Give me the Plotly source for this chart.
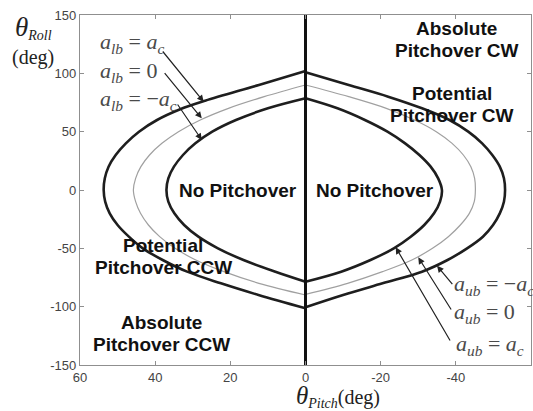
import plotly.graph_objects as go

# ---- boundary curves (pitch, roll in degrees) ----
# each boundary is split at pitch = 0, where it has a corner
outer_pos_roll = [102, 90, 76.5, 69, 60, 50, 40, 30, 20, 10, 0, -10, -20, -30, -40, -50, -60, -70, -80, -90, -101.4]
outer_pos_pitch = [0, 12.4, 26.7, 33.5, 39.5, 44.3, 47.8, 50.5, 52.4, 53.4, 53.7, 53.3, 52.1, 50.0, 47.0, 43.3, 38.0, 31.5, 22.5, 12.5, 0]
outer_neg_roll = [101, 90, 80, 70, 60, 50, 40, 30, 20, 10, 0, -10, -20, -30, -40, -50, -60, -70, -80, -90, -100.5]
outer_neg_pitch = [0, -11.5, -22, -31, -38.3, -43.3, -47, -49.7, -51.7, -52.8, -53.1, -52.8, -51.7, -49.9, -47.2, -43, -37.8, -31, -20.5, -10, 0]

mid_pos_roll = [90, 80, 70, 60, 50, 40, 30, 20, 10, 0, -10, -20, -30, -40, -50, -60, -70, -80, -90]
mid_pos_pitch = [0, 11, 20.5, 28, 33.8, 38.2, 41.5, 43.8, 45.2, 45.8, 45.2, 43.9, 41.8, 38.8, 34.7, 29.2, 21.7, 12.4, 0]
mid_neg_roll = [90, 80, 70, 60, 50, 40, 30, 20, 10, 0, -10, -20, -30, -40, -50, -60, -70, -80, -89.5]
mid_neg_pitch = [0, -11.5, -21.5, -29, -34.8, -39, -42, -44, -45, -45.2, -44.9, -43.6, -41.2, -38, -33.8, -28.3, -20.5, -11.2, 0]

inner_pos_roll = [78.6, 70, 60, 50, 40, 30, 20, 10, 0, -10, -20, -30, -40, -50, -60, -70, -78.6]
inner_pos_pitch = [0, 10, 18.5, 24.8, 29.3, 32.6, 35, 36.5, 37, 36.5, 34.9, 32.3, 28.5, 23.3, 16.5, 8, 0]
inner_neg_roll = [78.6, 70, 60, 50, 40, 30, 20, 10, 0, -10, -20, -30, -40, -50, -60, -70, -78.6]
inner_neg_pitch = [0, -8.5, -15.8, -21.8, -26.5, -30.3, -33.3, -35.3, -36.3, -35.8, -34.2, -31.6, -28, -23.5, -17.3, -9.5, 0]

# zero-pitch divider
divider_pitch = [0, 0]
divider_roll = [-150, 150]

# axis ticks
x_ticks = [60, 40, 20, 0, -20, -40, -60]
x_tick_text = ["60", "40", "20", "0", "-20", "-40", "-60"]
y_ticks = [150, 100, 50, 0, -50, -100, -150]
y_tick_text = ["150", "100", "50", "0", "-50", "-100", "-150"]

# region labels: (lines, pitch, roll of block centre)
region_labels = [
    (["Absolute", "Pitchover CW"], -40.3, 129.4),
    (["Potential", "Pitchover CW"], -38.9, 72.9),
    (["No Pitchover"], 18.0, 0),
    (["No Pitchover"], -18.5, 0),
    (["Potential", "Pitchover CCW"], 37.8, -56.6),
    (["Absolute", "Pitchover CCW"], 38.3, -122.6),
]

# bound labels with arrows: (text, label pitch, label roll, tail pitch, tail roll, tip pitch, tip roll)
bound_labels = [
    ("<i>a</i><sub><i>lb</i></sub> = <i>a</i><sub><i>c</i></sub>", 55.1, 126.0, 38.3, 120.0, 27.1, 75.7),
    ("<i>a</i><sub><i>lb</i></sub> = 0", 55.1, 101.1, 37.8, 101.4, 27.6, 61.4),
    ("<i>a</i><sub><i>lb</i></sub> = −<i>a</i><sub><i>c</i></sub>", 55.1, 77.1, 34.3, 74.6, 27.6, 42.9),
    ("<i>a</i><sub><i>ub</i></sub> = −<i>a</i><sub><i>c</i></sub>", -39.0, -81.4, -39.4, -82.0, -35.0, -64.9),
    ("<i>a</i><sub><i>ub</i></sub> = 0", -39.0, -105.4, -39.0, -103.7, -30.0, -57.7),
    ("<i>a</i><sub><i>ub</i></sub> = <i>a</i><sub><i>c</i></sub>", -39.5, -132.9, -38.7, -130.3, -24.0, -49.1),
]

fig = go.Figure()

thick = dict(color="#1e1e1e", width=2.6, shape="spline", smoothing=1.0)
thin = dict(color="#a0a0a0", width=1.2, shape="spline", smoothing=1.0)

for px, ry, style in [
    (outer_pos_pitch, outer_pos_roll, thick),
    (outer_neg_pitch, outer_neg_roll, thick),
    (mid_pos_pitch, mid_pos_roll, thin),
    (mid_neg_pitch, mid_neg_roll, thin),
    (inner_pos_pitch, inner_pos_roll, thick),
    (inner_neg_pitch, inner_neg_roll, thick),
]:
    fig.add_trace(go.Scatter(x=px, y=ry, mode="lines", line=style,
                             hoverinfo="skip", showlegend=False))

fig.add_trace(go.Scatter(x=divider_pitch, y=divider_roll, mode="lines",
                         line=dict(color="#111111", width=3),
                         hoverinfo="skip", showlegend=False))

line_gap = 22  # px between label lines
for lines, xv, yv in region_labels:
    n = len(lines)
    for i, line in enumerate(lines):
        shift = ((n - 1) / 2 - i) * line_gap
        fig.add_annotation(x=xv, y=yv, yshift=shift, text="<b>" + line + "</b>",
                           showarrow=False, xanchor="center", yanchor="middle",
                           font=dict(family="Liberation Sans, Arial", size=19, color="#111111"))

for text, lx, ly, tx, ty, hx, hy in bound_labels:
    fig.add_annotation(x=lx, y=ly, text=text, showarrow=False,
                       xanchor="left", yanchor="middle",
                       font=dict(family="Liberation Serif, Times New Roman", size=22, color="#4a4a4a"))
    fig.add_annotation(x=hx, y=hy, ax=tx, ay=ty, axref="x", ayref="y",
                       text="", showarrow=True, arrowhead=2, arrowsize=1.1,
                       arrowwidth=1.2, arrowcolor="#222222", standoff=0)

# axis titles
fig.add_annotation(xref="paper", yref="paper", x=-0.104, y=0.963,
                   text="<span style='font-size:27px'><i>θ</i></span><sub><i>Roll</i></sub>",
                   showarrow=False, xanchor="center", yanchor="middle",
                   font=dict(family="Liberation Serif, Times New Roman", size=20, color="#222222"))
fig.add_annotation(xref="paper", yref="paper", x=-0.104, y=0.88,
                   text="(deg)", showarrow=False, xanchor="center", yanchor="middle",
                   font=dict(family="Liberation Serif, Times New Roman", size=20, color="#222222"))
fig.add_annotation(xref="paper", yref="paper", x=0.572, y=-0.09,
                   text="<span style='font-size:25px'><i>θ</i></span><sub><i>Pitch</i></sub>(deg)",
                   showarrow=False, xanchor="center", yanchor="middle",
                   font=dict(family="Liberation Serif, Times New Roman", size=20, color="#222222"))

axis_common = dict(
    showgrid=False, zeroline=False, showline=True, mirror="ticks",
    linecolor="#8f8f8f", linewidth=1.3, ticks="inside", ticklen=4,
    tickcolor="#8f8f8f", tickwidth=1,
    tickfont=dict(family="Liberation Sans, Arial", size=13, color="#444444"),
    tickmode="array",
)

fig.update_xaxes(range=[60, -60], tickvals=x_ticks, ticktext=x_tick_text, **axis_common)
fig.update_yaxes(range=[-150, 150], tickvals=y_ticks, ticktext=y_tick_text, **axis_common)

fig.update_layout(
    width=533, height=411,
    margin=dict(l=80, r=2, t=15, b=46),
    plot_bgcolor="white", paper_bgcolor="white",
)

fig.write_html("out.html")
